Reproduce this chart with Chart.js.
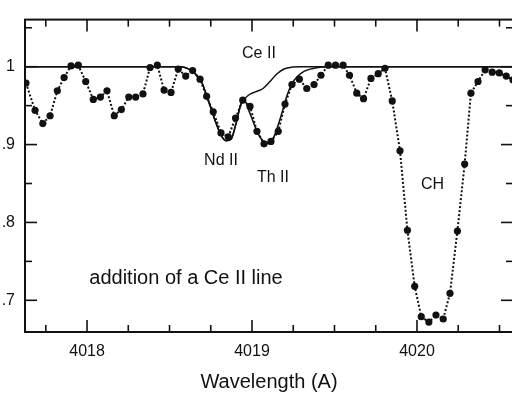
<!DOCTYPE html>
<html>
<head>
<meta charset="utf-8">
<script src="https://cdn.jsdelivr.net/npm/chart.js@4"></script>
<style>
  html, body { margin: 0; padding: 0; background: #fff; overflow: hidden; }
  #wrap { width: 512px; height: 396px; overflow: hidden; }
</style>
</head>
<body>
<div id="wrap"><canvas id="spectrum" width="520" height="396"></canvas></div>
<script>
// observed spectrum (dotted line with dots)
const obsWave = [4017.630, 4017.685, 4017.732, 4017.776, 4017.820, 4017.861, 4017.903, 4017.947, 4017.992, 4018.038,
  4018.081, 4018.121, 4018.165, 4018.208, 4018.253, 4018.295, 4018.339, 4018.382, 4018.426, 4018.467,
  4018.509, 4018.553, 4018.598, 4018.640, 4018.685, 4018.725, 4018.765, 4018.812, 4018.856, 4018.900,
  4018.944, 4018.988, 4019.030, 4019.073, 4019.115, 4019.159, 4019.200, 4019.242, 4019.287, 4019.332,
  4019.376, 4019.418, 4019.462, 4019.506, 4019.552, 4019.591, 4019.635, 4019.676, 4019.721, 4019.765,
  4019.806, 4019.850, 4019.897, 4019.942, 4019.986, 4020.026, 4020.072, 4020.115, 4020.159, 4020.200,
  4020.245, 4020.289, 4020.327, 4020.370, 4020.413, 4020.456, 4020.499, 4020.541, 4020.582];
const obsFlux = [0.979, 0.944, 0.927, 0.937, 0.969, 0.986, 1.001, 1.002, 0.981, 0.958,
  0.961, 0.969, 0.937, 0.945, 0.961, 0.961, 0.965, 0.999, 1.002, 0.970,
  0.967, 0.997, 0.988, 0.995, 0.984, 0.962, 0.942, 0.915, 0.910, 0.934,
  0.957, 0.949, 0.917, 0.901, 0.904, 0.917, 0.952, 0.977, 0.984, 0.972,
  0.977, 0.989, 1.002, 1.002, 1.002, 0.989, 0.966, 0.959, 0.985, 0.991,
  0.998, 0.956, 0.892, 0.790, 0.718, 0.679, 0.672, 0.681, 0.676, 0.709,
  0.789, 0.875, 0.966, 0.981, 0.996, 0.993, 0.992, 0.988, 0.983];

// synthetic spectrum without the Ce II line
const synWaveNoCe = [4017.624, 4018.564, 4018.612, 4018.655, 4018.695, 4018.733, 4018.776, 4018.812, 4018.842, 4018.873,
  4018.903, 4018.933, 4018.952, 4018.982, 4019.024, 4019.067, 4019.109, 4019.152, 4019.194, 4019.242,
  4019.291, 4020.600];
const synFluxNoCe = [1, 1, 0.9975, 0.991, 0.980, 0.958, 0.931, 0.912, 0.905, 0.907,
  0.927, 0.952, 0.958, 0.964, 0.968, 0.972, 0.981, 0.991, 0.997, 0.9995,
  1, 1];

// synthetic spectrum with the Ce II line added
const synWaveCe = [4017.624, 4018.564, 4018.612, 4018.655, 4018.695, 4018.733, 4018.776, 4018.812, 4018.842, 4018.873,
  4018.903, 4018.933, 4018.952, 4018.982, 4019.006, 4019.030, 4019.061, 4019.091, 4019.121, 4019.152,
  4019.182, 4019.212, 4019.242, 4019.273, 4019.315, 4019.364, 4019.424, 4019.485, 4020.600];
const synFluxCe = [1, 1, 0.9975, 0.991, 0.980, 0.958, 0.931, 0.912, 0.905, 0.907,
  0.927, 0.952, 0.958, 0.943, 0.930, 0.917, 0.906, 0.901, 0.905, 0.921,
  0.941, 0.963, 0.978, 0.987, 0.994, 0.9975, 0.9995, 1, 1];

// axes
const xMin = 4017.624, xMax = 4020.582;
const yMin = 0.6593, yMax = 1.0605;
const xLabelValues = [4018, 4019, 4020];
const xMinorValues = [4017.75, 4018.25, 4018.5, 4018.75, 4019.25, 4019.5, 4019.75, 4020.25, 4020.5];
const yLabelValues = [0.7, 0.8, 0.9, 1.0];
const yLabelText = ['.7', '.8', '.9', '1'];
const yMinorValues = [0.75, 0.85, 0.95, 1.05];

// line identifications
const noteText = ['Ce II', 'Nd II', 'Th II', 'CH', 'addition of a Ce II line'];
const noteWave = [4019.042, 4018.812, 4019.127, 4020.094, 4018.600];
const noteFlux = [1.0173, 0.879, 0.858, 0.849, 0.728];

const pts = (xs, ys) => xs.map((x, i) => ({ x: x, y: ys[i] }));
const ink = '#111';
const fam = '"Liberation Sans", Arial, Helvetica, sans-serif';
Chart.defaults.font.family = fam;

// frame, inward tick marks and the text labels
const frameAndNotes = {
  id: 'frameAndNotes',
  afterDraw(chart) {
    const { ctx, chartArea: a, scales: { x, y } } = chart;
    ctx.save();
    ctx.strokeStyle = ink;
    ctx.lineWidth = 2;
    ctx.strokeRect(a.left, a.top, a.right - a.left, a.bottom - a.top);
    ctx.lineWidth = 1.6;
    const seg = (x1, y1, x2, y2) => { ctx.beginPath(); ctx.moveTo(x1, y1); ctx.lineTo(x2, y2); ctx.stroke(); };
    const xt = (v, len) => { const p = x.getPixelForValue(v); seg(p, a.bottom, p, a.bottom - len); seg(p, a.top, p, a.top + len); };
    const yt = (v, len) => { const p = y.getPixelForValue(v); seg(a.left, p, a.left + len, p); seg(a.right, p, a.right - len, p); };
    xLabelValues.forEach(v => xt(v, 12));
    xMinorValues.forEach(v => xt(v, 7));
    yLabelValues.forEach(v => yt(v, 12));
    yMinorValues.forEach(v => yt(v, 7));

    ctx.fillStyle = ink;
    ctx.textAlign = 'center';
    ctx.textBaseline = 'middle';
    noteText.forEach((t, i) => {
      ctx.font = (i === 4 ? '20px ' : '16px ') + fam;
      ctx.fillText(t, x.getPixelForValue(noteWave[i]), y.getPixelForValue(noteFlux[i]));
    });
    ctx.restore();
  }
};

new Chart(document.getElementById('spectrum').getContext('2d'), {
  type: 'line',
  data: {
    datasets: [
      {
        data: pts(synWaveNoCe, synFluxNoCe),
        borderColor: ink, borderWidth: 1.5, pointRadius: 0,
        cubicInterpolationMode: 'monotone'
      },
      {
        data: pts(synWaveCe, synFluxCe),
        borderColor: ink, borderWidth: 1.5, pointRadius: 0,
        cubicInterpolationMode: 'monotone'
      },
      {
        data: pts(obsWave, obsFlux),
        borderColor: ink, borderWidth: 2, borderDash: [2, 2],
        pointRadius: 3.6, pointBackgroundColor: ink, pointBorderWidth: 0,
        tension: 0
      }
    ]
  },
  options: {
    responsive: false,
    animation: false,
    devicePixelRatio: 1,
    layout: { padding: { top: 7, right: 7, left: 0, bottom: 0 } },
    plugins: { legend: { display: false }, tooltip: { enabled: false } },
    scales: {
      x: {
        type: 'linear', min: xMin, max: xMax,
        grid: { display: false, drawTicks: false },
        border: { display: false },
        afterBuildTicks: s => { s.ticks = xLabelValues.map(v => ({ value: v })); },
        afterFit: s => { s.height = 64; },
        ticks: { padding: 10, color: ink, font: { size: 16 }, maxRotation: 0, callback: v => String(v) },
        title: { display: true, text: 'Wavelength (A)', color: ink, font: { size: 20 }, padding: { top: 0, bottom: 2 } }
      },
      y: {
        type: 'linear', min: yMin, max: yMax,
        grid: { display: false, drawTicks: false },
        border: { display: false },
        afterBuildTicks: s => { s.ticks = yLabelValues.map(v => ({ value: v })); },
        afterFit: s => { s.width = 25; },
        ticks: { padding: 10, color: ink, font: { size: 16 }, callback: v => yLabelText[yLabelValues.indexOf(v)] }
      }
    }
  },
  plugins: [frameAndNotes]
});
</script>
</body>
</html>
